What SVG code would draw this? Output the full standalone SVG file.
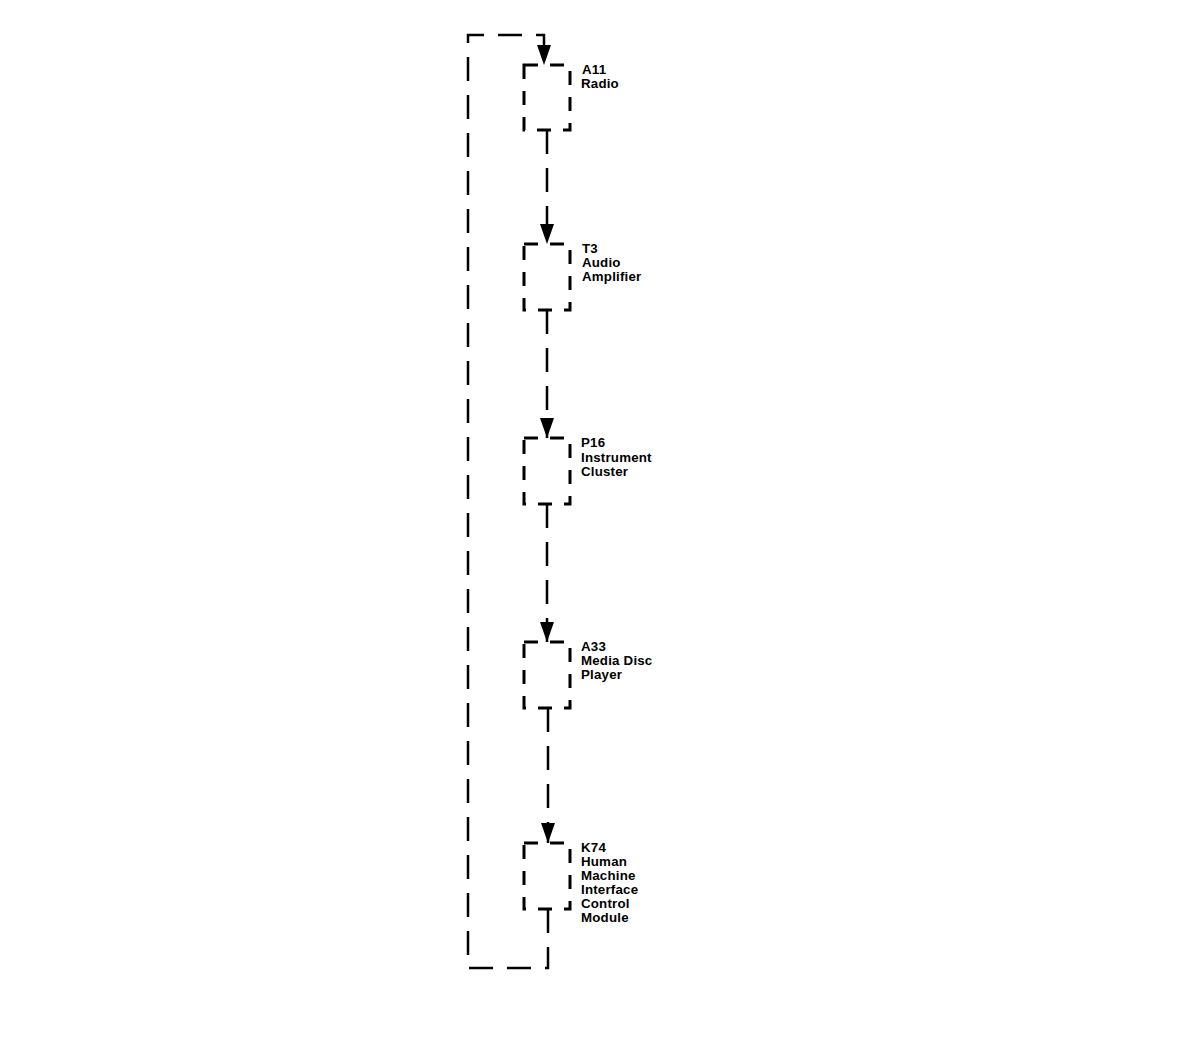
<svg xmlns="http://www.w3.org/2000/svg" width="1200" height="1064" viewBox="0 0 1200 1064">
<defs>
<marker id="ah" viewBox="0 0 10 10" refX="10" refY="5" markerWidth="20" markerHeight="14" markerUnits="userSpaceOnUse" orient="auto" preserveAspectRatio="none">
<path d="M0,0 L10,5 L0,10 z" fill="#000"/>
</marker>
<style>
.box{fill:none;stroke:#000;stroke-width:3;stroke-dasharray:14 12}
.con{fill:none;stroke:#000;stroke-width:2.5;stroke-dasharray:24 14}
.lbl{font-family:"Liberation Sans",Arial,sans-serif;font-weight:bold;font-size:13.3px;letter-spacing:0.2px;fill:#000}
</style>
</defs>
<rect width="1200" height="1064" fill="#fff"/>
<g id="connectors">
<path class="con" d="M547,130 V244" marker-end="url(#ah)"/>
<path class="con" d="M547,310 V438" marker-end="url(#ah)"/>
<path class="con" d="M547,504 V642" marker-end="url(#ah)"/>
<path class="con" d="M548,708 V843" marker-end="url(#ah)"/>
<path class="con" d="M548,909 V968 H468 V35 H544 V65" marker-end="url(#ah)"/>
</g>
<g id="A11">
<rect class="box" x="524" y="65" width="46" height="65"/>
<text class="lbl" x="582" y="74">A11</text>
<text class="lbl" x="581" y="88">Radio</text>
</g>
<g id="T3">
<rect class="box" x="524" y="244" width="46" height="66"/>
<text class="lbl" x="582" y="253">T3</text>
<text class="lbl" x="582" y="267">Audio</text>
<text class="lbl" x="582" y="281">Amplifier</text>
</g>
<g id="P16">
<rect class="box" x="524" y="438" width="46" height="66"/>
<text class="lbl" x="581" y="447">P16</text>
<text class="lbl" x="581" y="462">Instrument</text>
<text class="lbl" x="581" y="476">Cluster</text>
</g>
<g id="A33">
<rect class="box" x="524" y="642" width="46" height="66"/>
<text class="lbl" x="581" y="651">A33</text>
<text class="lbl" x="581" y="665">Media Disc</text>
<text class="lbl" x="581" y="679">Player</text>
</g>
<g id="K74">
<rect class="box" x="524" y="843" width="46" height="66"/>
<text class="lbl" x="581" y="852">K74</text>
<text class="lbl" x="581" y="866">Human</text>
<text class="lbl" x="581" y="880">Machine</text>
<text class="lbl" x="581" y="894">Interface</text>
<text class="lbl" x="581" y="908">Control</text>
<text class="lbl" x="581" y="922">Module</text>
</g>
</svg>
